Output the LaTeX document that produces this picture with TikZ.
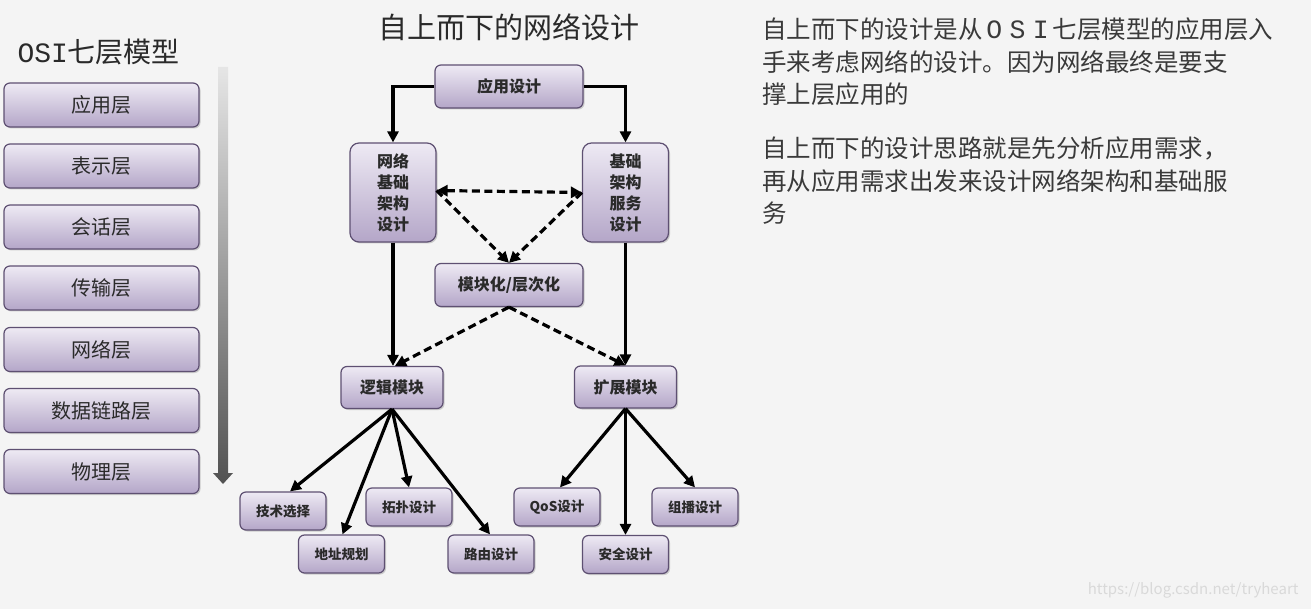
\documentclass[tikz,border=0pt]{standalone}
\usepackage{fontspec}
\setmainfont{Noto Sans CJK SC}
\newfontfamily\cjk{Noto Sans CJK SC}
\newfontfamily\monofnt{Liberation Mono}
\newfontfamily\monobig[Scale=1.08]{Liberation Mono}
\usetikzlibrary{arrows.meta,shadows,shapes.arrows}
\definecolor{bgc}{HTML}{F4F4F4}
\definecolor{boxtop}{HTML}{EEEAF4}
\definecolor{boxbot}{HTML}{B4A6C8}
\definecolor{boxline}{HTML}{5E5072}
\definecolor{txt}{HTML}{2A2A2A}
\definecolor{rtxt}{HTML}{3A3A3A}
\newcommand{\fw}[1]{\makebox[0.95em]{\monobig #1}}
\tikzset{
  box/.style={draw=boxline, line width=1.2pt, rounded corners=6pt, top color=boxtop, bottom color=boxbot,
    drop shadow={shadow xshift=1.5pt, shadow yshift=-1.5pt, opacity=0.35}, text=txt, inner sep=0pt, align=center},
  osibox/.style={box, minimum width=195pt, minimum height=44pt, font=\fontsize{20}{22}\selectfont},
  midbox/.style={box, minimum width=148pt, minimum height=43pt, font=\bfseries\fontsize{16}{18}\selectfont},
  tallbox/.style={box, rounded corners=9pt, minimum width=86pt, minimum height=99pt, font=\bfseries\fontsize{16}{21}\selectfont},
  modbox/.style={box, minimum width=102pt, minimum height=42pt, font=\bfseries\fontsize{16}{18}\selectfont},
  leafbox/.style={box, minimum width=86pt, minimum height=38pt, font=\bfseries\fontsize{13.5}{15}\selectfont},
  solidarr/.style={-{Triangle[length=11pt,width=11pt]}, line width=3.2pt, black},
  dasharr/.style={-{Triangle[length=11pt,width=11pt]}, line width=3.2pt, black, dash pattern=on 8pt off 4.5pt},
  dashboth/.style={{Triangle[length=11pt,width=11pt]}-{Triangle[length=11pt,width=11pt]}, line width=3.2pt, black, dash pattern=on 8pt off 4.5pt},
}
\begin{document}
\begin{tikzpicture}[x=1pt,y=-1pt]
\fill[bgc] (0,0) rectangle (1311,609);
\useasboundingbox (0,0) rectangle (1311,609);

% left title
\node[text=txt, font=\fontsize{28}{30}\selectfont, anchor=west] (osititle) at (14,52) {{\monofnt OSI}七层模型};

% OSI boxes
\node[osibox] (l1) at (101.5,105) {应用层};
\node[osibox] (l2) at (101.5,166) {表示层};
\node[osibox] (l3) at (101.5,227) {会话层};
\node[osibox] (l4) at (101.5,288) {传输层};
\node[osibox] (l5) at (101.5,349.5) {网络层};
\node[osibox] (l6) at (101.5,410.5) {数据链路层};
\node[osibox] (l7) at (101.5,471.5) {物理层};

% gradient arrow
\shade[top color=black!10, bottom color=black!68]
  (218,67) -- (228,67) -- (228,473) -- (233,473) -- (223,484) -- (213,473) -- (218,473) -- cycle;

% middle title
\node[text=txt, font=\fontsize{29}{31}\selectfont] (midtitle) at (509,27) {自上而下的网络设计};

% middle boxes
\node[midbox] (app) at (509,86.5) {应用设计};
\node[tallbox] (net) at (393,192.5) {网络\\基础\\架构\\设计};
\node[tallbox] (svc) at (625.5,192.5) {基础\\架构\\服务\\设计};
\node[midbox] (mod) at (509,285) {模块化/层次化};
\node[modbox] (logic) at (392,387.5) {逻辑模块};
\node[modbox] (ext) at (625.5,387) {扩展模块};

\node[leafbox] (tech) at (283,511) {技术选择};
\node[leafbox] (addr) at (341.5,554) {地址规划};
\node[leafbox] (topo) at (409,507) {拓扑设计};
\node[leafbox] (route) at (491,554) {路由设计};
\node[leafbox] (qos) at (557,507) {QoS设计};
\node[leafbox] (sec) at (625.5,554.5) {安全设计};
\node[leafbox] (mcast) at (695,507) {组播设计};

% solid connectors
\draw[solidarr] (app.west) -| (net.north);
\draw[solidarr] (app.east) -| (svc.north);
\draw[solidarr] (net.south) -- (logic.north -| net.south);
\draw[solidarr] (svc.south) -- (ext.north -| svc.south);

% dashed connectors
\coordinate (netr) at ([yshift=2pt]net.east);
\coordinate (svcl) at ([yshift=0pt]svc.west);
\draw[dashboth] (netr) -- (svcl);
\draw[dasharr] (netr) -- (mod.north);
\draw[dasharr] (svcl) -- (mod.north);
\draw[dasharr] (mod.south) -- ([xshift=3pt]logic.north);
\draw[dasharr] (mod.south) -- (ext.north);

% tree connectors
\coordinate (lb) at (logic.south);
\draw[solidarr] (lb) -- ([xshift=7pt]tech.north);
\draw[solidarr] (lb) -- ([xshift=1pt]addr.north);
\draw[solidarr] (lb) -- (topo.north);
\draw[solidarr] (lb) -- ([xshift=-1pt]route.north);
\coordinate (eb) at (ext.south);
\draw[solidarr] (eb) -- ([xshift=3pt]qos.north);
\draw[solidarr] (eb) -- (sec.north);
\draw[solidarr] (eb) -- (mcast.north);

% right text
\node[text=rtxt, font=\fontsize{24.5}{32.5}\selectfont, anchor=north west, align=left, inner sep=0pt] (para1) at (762,18)
  {自上而下的设计是从\fw{O}\fw{S}\fw{I}七层模型的应用层入\\手来考虑网络的设计。因为网络最终是要支\\撑上层应用的};
\node[text=rtxt, font=\fontsize{24.5}{32.5}\selectfont, anchor=north west, align=left, inner sep=0pt] (para2) at (762,137)
  {自上而下的设计思路就是先分析应用需求，\\再从应用需求出发来设计网络架构和基础服\\务};

% watermark
\node[text=black!15, font=\fontsize{15}{17}\selectfont, anchor=east] (wm) at (1302,590) {https://blog.csdn.net/tryheart};
\end{tikzpicture}
\end{document}
